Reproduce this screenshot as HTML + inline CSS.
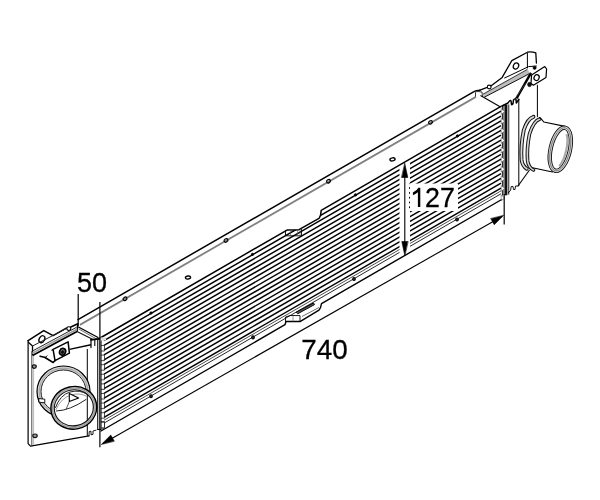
<!DOCTYPE html>
<html><head><meta charset="utf-8"><style>
html,body{margin:0;padding:0;background:#fff;width:600px;height:500px;overflow:hidden}
svg{display:block;will-change:transform}
</style></head><body>
<svg width="600" height="500" viewBox="0 0 600 500">
<rect width="600" height="500" fill="#fff"/>
<defs><clipPath id="core"><path d="M101.00,337.50 L287.00,230.05 L299.00,229.65 L319.00,218.46 L320.60,215.14 L321.20,210.29 L504.00,104.69 L504.00,198.19 L101.00,431.00 Z"/></clipPath>
<clipPath id="gap"><path d="M0,0 H600 V500 H0 Z M399.5,150 H410 V270 H399.5 Z M409,183.5 H458 V211 H409 Z" clip-rule="evenodd"/></clipPath></defs>
<g clip-path="url(#core)"><g clip-path="url(#gap)">
<line x1="104.00" y1="340.57" x2="501.00" y2="111.22" stroke="#000" stroke-width="1.45"/>
<line x1="104.00" y1="345.37" x2="501.00" y2="116.02" stroke="#000" stroke-width="1.45"/>
<line x1="104.00" y1="350.17" x2="501.00" y2="120.82" stroke="#000" stroke-width="1.45"/>
<line x1="104.00" y1="354.97" x2="501.00" y2="125.62" stroke="#000" stroke-width="1.45"/>
<line x1="104.00" y1="359.77" x2="501.00" y2="130.42" stroke="#000" stroke-width="1.45"/>
<line x1="104.00" y1="364.57" x2="501.00" y2="135.22" stroke="#000" stroke-width="1.45"/>
<line x1="104.00" y1="369.37" x2="501.00" y2="140.02" stroke="#000" stroke-width="1.45"/>
<line x1="104.00" y1="374.17" x2="501.00" y2="144.82" stroke="#000" stroke-width="1.45"/>
<line x1="104.00" y1="378.97" x2="501.00" y2="149.62" stroke="#000" stroke-width="1.45"/>
<line x1="104.00" y1="383.77" x2="501.00" y2="154.42" stroke="#000" stroke-width="1.45"/>
<line x1="104.00" y1="388.57" x2="501.00" y2="159.22" stroke="#000" stroke-width="1.45"/>
<line x1="104.00" y1="393.37" x2="501.00" y2="164.02" stroke="#000" stroke-width="1.45"/>
<line x1="104.00" y1="398.17" x2="501.00" y2="168.82" stroke="#000" stroke-width="1.45"/>
<line x1="104.00" y1="402.97" x2="501.00" y2="173.62" stroke="#000" stroke-width="1.45"/>
<line x1="104.00" y1="407.77" x2="501.00" y2="178.42" stroke="#000" stroke-width="1.45"/>
<line x1="104.00" y1="412.57" x2="501.00" y2="183.22" stroke="#000" stroke-width="1.45"/>
<line x1="104.00" y1="417.37" x2="501.00" y2="188.02" stroke="#000" stroke-width="1.45"/>
<line x1="104.00" y1="420.25" x2="501.00" y2="190.90" stroke="#222" stroke-width="0.8"/>
<line x1="104.00" y1="423.13" x2="501.00" y2="193.78" stroke="#111" stroke-width="0.9"/>
</g></g>
<path d="M98.00,339.23 L287.00,230.05 L299.00,229.65 L319.00,218.46 L320.60,215.14 L321.20,210.29 L501.00,106.42" stroke="#000" stroke-width="1.5" fill="none" stroke-linejoin="round" stroke-linecap="round"/>
<path d="M101.00,431.00 L285.00,324.70 L286.00,321.54 L300.00,321.54 L319.00,310.06 L320.50,307.69 L321.50,303.62 L503.00,198.76" stroke="#000" stroke-width="1.4" fill="none" stroke-linejoin="round" stroke-linecap="round"/>
<path d="M285.50,230.50 L285.50,235.80 L301.50,235.80 L301.50,229.50" stroke="#000" stroke-width="0.9" fill="none" stroke-linejoin="round" stroke-linecap="round"/>
<line x1="290.50" y1="230.20" x2="290.50" y2="235.60" stroke="#555" stroke-width="0.6"/>
<line x1="297.50" y1="229.80" x2="297.50" y2="235.60" stroke="#555" stroke-width="0.6"/>
<line x1="300.00" y1="229.60" x2="300.00" y2="235.60" stroke="#555" stroke-width="0.6"/>
<path d="M285.50,323.50 L285.50,317.00 L290.00,315.50 L300.00,315.60 L300.00,321.50" stroke="#000" stroke-width="0.9" fill="none" stroke-linejoin="round" stroke-linecap="round"/>
<line x1="293.00" y1="315.70" x2="293.00" y2="321.50" stroke="#555" stroke-width="0.6"/>
<path d="M101.00,345.50 L104.50,345.50 L104.50,351.00 L101.00,351.00" stroke="#222" stroke-width="0.8" fill="none" stroke-linejoin="round" stroke-linecap="round"/>
<path d="M101.00,355.10 L104.50,355.10 L104.50,360.60 L101.00,360.60" stroke="#222" stroke-width="0.8" fill="none" stroke-linejoin="round" stroke-linecap="round"/>
<path d="M101.00,364.70 L104.50,364.70 L104.50,370.20 L101.00,370.20" stroke="#222" stroke-width="0.8" fill="none" stroke-linejoin="round" stroke-linecap="round"/>
<path d="M101.00,374.30 L104.50,374.30 L104.50,379.80 L101.00,379.80" stroke="#222" stroke-width="0.8" fill="none" stroke-linejoin="round" stroke-linecap="round"/>
<path d="M101.00,383.90 L104.50,383.90 L104.50,389.40 L101.00,389.40" stroke="#222" stroke-width="0.8" fill="none" stroke-linejoin="round" stroke-linecap="round"/>
<path d="M101.00,393.50 L104.50,393.50 L104.50,399.00 L101.00,399.00" stroke="#222" stroke-width="0.8" fill="none" stroke-linejoin="round" stroke-linecap="round"/>
<path d="M101.00,403.10 L104.50,403.10 L104.50,408.60 L101.00,408.60" stroke="#222" stroke-width="0.8" fill="none" stroke-linejoin="round" stroke-linecap="round"/>
<path d="M101.00,412.70 L104.50,412.70 L104.50,418.20 L101.00,418.20" stroke="#222" stroke-width="0.8" fill="none" stroke-linejoin="round" stroke-linecap="round"/>
<path d="M101.00,422.30 L104.50,422.30 L104.50,427.80 L101.00,427.80" stroke="#222" stroke-width="0.8" fill="none" stroke-linejoin="round" stroke-linecap="round"/>
<line x1="97.60" y1="339.50" x2="97.60" y2="429.50" stroke="#222" stroke-width="1.0"/>
<line x1="101.00" y1="339.00" x2="101.00" y2="429.50" stroke="#000" stroke-width="1.1"/>
<rect x="98.1" y="340" width="2.4" height="89" fill="#bbb"/>
<path d="M97.60,429.50 L101.00,429.50" stroke="#000" stroke-width="1.0" fill="none" stroke-linejoin="round" stroke-linecap="round"/>
<path d="M101,421.5 L104.5,421.5 L104.5,427.5 Q104,429 102,429" stroke="#222" stroke-width="0.8" fill="none" stroke-linejoin="round" stroke-linecap="round"/>
<rect x="502.4" y="104.8" width="2.2" height="90.5" fill="#888"/>
<rect x="504.6" y="104.6" width="2.6" height="90.7" fill="#111"/>
<line x1="502.40" y1="105.00" x2="502.40" y2="195.50" stroke="#111" stroke-width="0.9"/>
<rect x="507.2" y="104.5" width="1.4" height="90.5" fill="#999"/>
<line x1="508.80" y1="104.50" x2="508.80" y2="194.50" stroke="#222" stroke-width="0.9"/>
<path d="M501.50,109.00 L504.80,111.60 L501.50,114.20 Z" stroke="#444" stroke-width="0.5" fill="#fff" stroke-linejoin="round" stroke-linecap="round"/>
<path d="M501.50,118.60 L504.80,121.20 L501.50,123.80 Z" stroke="#444" stroke-width="0.5" fill="#fff" stroke-linejoin="round" stroke-linecap="round"/>
<path d="M501.50,128.20 L504.80,130.80 L501.50,133.40 Z" stroke="#444" stroke-width="0.5" fill="#fff" stroke-linejoin="round" stroke-linecap="round"/>
<path d="M501.50,137.80 L504.80,140.40 L501.50,143.00 Z" stroke="#444" stroke-width="0.5" fill="#fff" stroke-linejoin="round" stroke-linecap="round"/>
<path d="M501.50,147.40 L504.80,150.00 L501.50,152.60 Z" stroke="#444" stroke-width="0.5" fill="#fff" stroke-linejoin="round" stroke-linecap="round"/>
<path d="M501.50,157.00 L504.80,159.60 L501.50,162.20 Z" stroke="#444" stroke-width="0.5" fill="#fff" stroke-linejoin="round" stroke-linecap="round"/>
<path d="M501.50,166.60 L504.80,169.20 L501.50,171.80 Z" stroke="#444" stroke-width="0.5" fill="#fff" stroke-linejoin="round" stroke-linecap="round"/>
<path d="M501.50,176.20 L504.80,178.80 L501.50,181.40 Z" stroke="#444" stroke-width="0.5" fill="#fff" stroke-linejoin="round" stroke-linecap="round"/>
<path d="M501.50,185.80 L504.80,188.40 L501.50,191.00 Z" stroke="#444" stroke-width="0.5" fill="#fff" stroke-linejoin="round" stroke-linecap="round"/>
<path d="M501.50,195.40 L504.80,198.00 L501.50,200.60 Z" stroke="#444" stroke-width="0.5" fill="#fff" stroke-linejoin="round" stroke-linecap="round"/>
<path d="M78,319.6 L474,91.6 Q476,90.2 480,90.2" stroke="#000" stroke-width="1.5" fill="none" stroke-linejoin="round" stroke-linecap="round"/>
<path d="M475.5,96.5 L475.5,92.5 Q476,91.5 478,91.5 L482,92 L482.5,96.5" stroke="#222" stroke-width="0.9" fill="none" stroke-linejoin="round" stroke-linecap="round"/>
<line x1="80.00" y1="325.00" x2="476.00" y2="97.00" stroke="#888" stroke-width="1.5"/>
<line x1="80.00" y1="324.20" x2="476.00" y2="96.20" stroke="#555" stroke-width="0.5"/>
<line x1="78.00" y1="326.70" x2="98.50" y2="337.80" stroke="#000" stroke-width="1.3"/>
<line x1="78.50" y1="328.80" x2="97.00" y2="339.30" stroke="#444" stroke-width="0.8"/>
<line x1="77.00" y1="331.50" x2="93.00" y2="339.60" stroke="#111" stroke-width="1.1"/>
<line x1="77.60" y1="323.50" x2="77.20" y2="331.50" stroke="#000" stroke-width="1.3"/>
<line x1="480.50" y1="95.50" x2="500.50" y2="107.00" stroke="#000" stroke-width="1.1"/>
<ellipse cx="125.00" cy="298.80" rx="2.0" ry="1.6" transform="rotate(-30 125.00 298.80)" stroke="#000" stroke-width="1.2" fill="none"/>
<ellipse cx="226.00" cy="240.46" rx="2.0" ry="1.6" transform="rotate(-30 226.00 240.46)" stroke="#000" stroke-width="1.2" fill="none"/>
<ellipse cx="328.50" cy="181.24" rx="2.0" ry="1.6" transform="rotate(-30 328.50 181.24)" stroke="#000" stroke-width="1.2" fill="none"/>
<ellipse cx="430.50" cy="122.32" rx="2.0" ry="1.6" transform="rotate(-30 430.50 122.32)" stroke="#000" stroke-width="1.2" fill="none"/>
<ellipse cx="188.00" cy="277.54" rx="2.6" ry="1.5" transform="rotate(-10 188.00 277.54)" stroke="#000" stroke-width="1.4" fill="none"/>
<ellipse cx="392.50" cy="159.40" rx="2.6" ry="1.5" transform="rotate(-10 392.50 159.40)" stroke="#000" stroke-width="1.4" fill="none"/>
<ellipse cx="151.00" cy="313.01" rx="1.1" ry="1.1" transform="rotate(0 151.00 313.01)" stroke="#000" stroke-width="1.0" fill="#000"/>
<ellipse cx="252.50" cy="254.38" rx="1.1" ry="1.1" transform="rotate(0 252.50 254.38)" stroke="#000" stroke-width="1.0" fill="#000"/>
<ellipse cx="355.50" cy="194.88" rx="1.1" ry="1.1" transform="rotate(0 355.50 194.88)" stroke="#000" stroke-width="1.0" fill="#000"/>
<ellipse cx="457.50" cy="135.95" rx="1.1" ry="1.1" transform="rotate(0 457.50 135.95)" stroke="#000" stroke-width="1.0" fill="#000"/>
<ellipse cx="151.00" cy="396.31" rx="1.3" ry="1.5" transform="rotate(0 151.00 396.31)" stroke="#000" stroke-width="1.1" fill="#333"/>
<ellipse cx="253.00" cy="337.39" rx="1.3" ry="1.5" transform="rotate(0 253.00 337.39)" stroke="#000" stroke-width="1.1" fill="#333"/>
<ellipse cx="354.00" cy="279.04" rx="1.3" ry="1.5" transform="rotate(0 354.00 279.04)" stroke="#000" stroke-width="1.1" fill="#333"/>
<ellipse cx="457.00" cy="219.54" rx="1.3" ry="1.5" transform="rotate(0 457.00 219.54)" stroke="#000" stroke-width="1.1" fill="#333"/>
<path d="M296.50,312.00 L313.50,303.00 L314.50,304.60 L298.00,313.60 Z" stroke="#000" stroke-width="1.0" fill="#555" stroke-linejoin="round" stroke-linecap="round"/>
<line x1="302.00" y1="316.50" x2="319.00" y2="307.50" stroke="#333" stroke-width="0.7"/>
<line x1="78.20" y1="294.00" x2="78.20" y2="326.00" stroke="#000" stroke-width="1.2"/>
<line x1="99.90" y1="302.00" x2="99.90" y2="447.30" stroke="#000" stroke-width="1.2"/>
<line x1="504.20" y1="194.00" x2="504.20" y2="224.50" stroke="#000" stroke-width="1.2"/>
<line x1="103.00" y1="443.40" x2="502.00" y2="216.40" stroke="#000" stroke-width="1.1"/>
<path d="M101.60,444.20 L110.78,435.06 L114.15,440.97 Z" stroke="#000" stroke-width="0.6" fill="#000" stroke-linejoin="round" stroke-linecap="round"/>
<path d="M503.40,215.60 L494.22,224.74 L490.85,218.83 Z" stroke="#000" stroke-width="0.6" fill="#000" stroke-linejoin="round" stroke-linecap="round"/>
<line x1="404.80" y1="170.00" x2="404.80" y2="250.00" stroke="#000" stroke-width="1.1"/>
<path d="M404.80,163.50 L407.80,177.50 L401.80,177.50 Z" stroke="#000" stroke-width="0.6" fill="#000" stroke-linejoin="round" stroke-linecap="round"/>
<path d="M404.80,255.50 L401.80,241.50 L407.80,241.50 Z" stroke="#000" stroke-width="0.6" fill="#000" stroke-linejoin="round" stroke-linecap="round"/>
<path d="M28.10,340.60 L28.10,443.60 L30.50,446.20 L89.00,435.80" stroke="#000" stroke-width="1.2" fill="none" stroke-linejoin="round" stroke-linecap="round"/>
<line x1="31.80" y1="352.00" x2="31.80" y2="445.50" stroke="#333" stroke-width="0.9"/>
<line x1="33.60" y1="356.00" x2="33.60" y2="444.50" stroke="#888" stroke-width="0.6"/>
<line x1="87.30" y1="349.00" x2="87.30" y2="435.80" stroke="#000" stroke-width="1.0"/>
<path d="M89.00,435.80 L89.20,431.50 L91.00,431.20 L91.00,434.80 L93.00,434.40 L93.00,431.00 L96.00,430.20" stroke="#000" stroke-width="0.9" fill="none" stroke-linejoin="round" stroke-linecap="round"/>
<path d="M28.10,340.60 L43.75,330.60 L53.10,335.60 L66.30,328.10" stroke="#000" stroke-width="1.5" fill="none" stroke-linejoin="round" stroke-linecap="round"/>
<ellipse cx="68.80" cy="328.60" rx="2.0" ry="1.9" transform="rotate(0 68.80 328.60)" stroke="#000" stroke-width="1.1" fill="none"/>
<path d="M70.80,327.00 L77.80,323.80" stroke="#000" stroke-width="1.5" fill="none" stroke-linejoin="round" stroke-linecap="round"/>
<ellipse cx="41.90" cy="339.20" rx="2.6" ry="3.7" transform="rotate(30 41.90 339.20)" stroke="#000" stroke-width="1.4" fill="none"/>
<path d="M28.60,342.50 L32.50,346.00 L32.50,354.40" stroke="#000" stroke-width="1.3" fill="none" stroke-linejoin="round" stroke-linecap="round"/>
<line x1="32.50" y1="346.00" x2="66.50" y2="328.50" stroke="#222" stroke-width="1.0"/>
<line x1="32.50" y1="355.60" x2="77.00" y2="331.60" stroke="#000" stroke-width="1.7"/>
<line x1="32.00" y1="353.40" x2="77.00" y2="329.20" stroke="#999" stroke-width="1.6"/>
<line x1="31.50" y1="351.50" x2="76.50" y2="327.30" stroke="#222" stroke-width="1.0"/>
<path d="M53.10,349.40 L68.10,341.90 L69.40,353.10 L55.00,360.60 Z" stroke="#000" stroke-width="1.5" fill="none" stroke-linejoin="round" stroke-linecap="round"/>
<line x1="53.10" y1="349.40" x2="51.50" y2="350.50" stroke="#000" stroke-width="1.2"/>
<path d="M40.00,356.20 L45.50,357.50" stroke="#000" stroke-width="1.5" fill="none" stroke-linejoin="round" stroke-linecap="round"/>
<path d="M45.00,357.50 L53.10,362.50 L55.00,360.60" stroke="#000" stroke-width="1.5" fill="none" stroke-linejoin="round" stroke-linecap="round"/>
<path d="M45.50,357.50 L47.00,355.80" stroke="#000" stroke-width="0.9" fill="none" stroke-linejoin="round" stroke-linecap="round"/>
<ellipse cx="62.60" cy="351.80" rx="3.0" ry="3.5" transform="rotate(20 62.60 351.80)" stroke="#000" stroke-width="1.6" fill="#666"/>
<ellipse cx="62.60" cy="352.20" rx="1.2" ry="1.4" transform="rotate(20 62.60 352.20)" stroke="#000" stroke-width="0.6" fill="#111"/>
<line x1="69.40" y1="349.40" x2="91.00" y2="344.80" stroke="#000" stroke-width="1.4"/>
<path d="M90.8,339.8 L100.6,338.6" stroke="#000" stroke-width="1.7" fill="none" stroke-linejoin="round" stroke-linecap="round"/>
<path d="M91,340 L91,347.6" stroke="#000" stroke-width="1.2" fill="none" stroke-linejoin="round" stroke-linecap="round"/>
<path d="M94.8,340 L94.8,345.6" stroke="#000" stroke-width="1.1" fill="none" stroke-linejoin="round" stroke-linecap="round"/>
<rect x="100.6" y="337.4" width="5.5" height="3.2" fill="#ddd"/>
<ellipse cx="34.30" cy="366.60" rx="2.0" ry="1.7" transform="rotate(0 34.30 366.60)" stroke="#111" stroke-width="1.2" fill="#999"/>
<ellipse cx="35.00" cy="435.80" rx="2.2" ry="1.8" transform="rotate(0 35.00 435.80)" stroke="#111" stroke-width="1.2" fill="#999"/>
<clipPath id="lp"><path d="M0,0 H600 V500 H0 Z M50.8,407.8 a23.0,21.3 0 1,0 46.0,0 a23.0,21.3 0 1,0 -46.0,0 Z" transform="rotate(-12 73.8 407.8)" clip-rule="evenodd"/></clipPath>
<g clip-path="url(#lp)">
<path d="M37,391.5 a26.5,25.5 0 1,0 53,0 a26.5,25.5 0 1,0 -53,0 Z M41,391.5 a22.5,21.5 0 1,0 45,0 a22.5,21.5 0 1,0 -45,0 Z" fill="#d0d0d0" fill-rule="evenodd"/>
<ellipse cx="63.50" cy="391.50" rx="26.5" ry="25.5" transform="rotate(0 63.50 391.50)" stroke="#000" stroke-width="1.2" fill="none"/>
<ellipse cx="63.50" cy="391.50" rx="22.5" ry="21.5" transform="rotate(0 63.50 391.50)" stroke="#222" stroke-width="1.0" fill="none"/>
<ellipse cx="63.50" cy="391.50" rx="24.3" ry="23.3" transform="rotate(0 63.50 391.50)" stroke="#777" stroke-width="0.5" fill="none"/>
</g>
<path d="M39.20,398.60 L44.80,399.20 L44.80,402.80 L39.20,402.20 Z" stroke="#000" stroke-width="0.9" fill="#fff" stroke-linejoin="round" stroke-linecap="round"/>
<path d="M50.8,407.8 a23.0,21.3 0 1,0 46.0,0 a23.0,21.3 0 1,0 -46.0,0 Z M54.199999999999996,407.8 a19.6,18.0 0 1,0 39.2,0 a19.6,18.0 0 1,0 -39.2,0 Z" transform="rotate(-12 73.8 407.8)" fill="#c8c8c8" fill-rule="evenodd"/>
<ellipse cx="73.80" cy="407.80" rx="23.0" ry="21.3" transform="rotate(-12 73.80 407.80)" stroke="#000" stroke-width="1.4" fill="none"/>
<ellipse cx="73.80" cy="407.80" rx="19.6" ry="18.0" transform="rotate(-12 73.80 407.80)" stroke="#111" stroke-width="1.1" fill="none"/>
<ellipse cx="73.80" cy="407.80" rx="21.4" ry="19.7" transform="rotate(-12 73.80 407.80)" stroke="#666" stroke-width="0.5" fill="none"/>
<path d="M55.5,407.5 Q60,395 70,392 Q80,389.5 86.5,394" stroke="#222" stroke-width="1.0" fill="none" stroke-linejoin="round" stroke-linecap="round"/>
<path d="M56,409.5 Q61,398 71,395 Q80,392.5 86,396" stroke="#555" stroke-width="0.6" fill="none" stroke-linejoin="round" stroke-linecap="round"/>
<path d="M56.5,411 Q70,410.5 86,399.5" stroke="#222" stroke-width="1.0" fill="none" stroke-linejoin="round" stroke-linecap="round"/>
<path d="M69.30,393.40 L78.60,398.00 L69.30,401.60 Z" stroke="#000" stroke-width="1.1" fill="#fff" stroke-linejoin="round" stroke-linecap="round"/>
<line x1="69.30" y1="401.60" x2="66.00" y2="409.50" stroke="#333" stroke-width="0.8"/>
<line x1="518.80" y1="98.60" x2="518.80" y2="186.00" stroke="#000" stroke-width="1.0"/>
<line x1="537.40" y1="84.80" x2="537.40" y2="117.20" stroke="#000" stroke-width="1.0"/>
<path d="M508.20,192.80 L510.60,190.40 L511.20,186.50 L513.00,186.50 L513.50,189.50 L515.00,189.50 L515.50,186.00 L518.00,186.00" stroke="#000" stroke-width="0.9" fill="none" stroke-linejoin="round" stroke-linecap="round"/>
<line x1="517.80" y1="186.20" x2="529.50" y2="170.00" stroke="#000" stroke-width="1.1"/>
<path d="M502,106 L508,103 Q510,99.5 511,101 L511.5,104.5 Q512.5,105 513,103.5 L513.5,100 Q515,98 516,99.5 L516.3,103 L518.8,99.5" stroke="#000" stroke-width="1.5" fill="none" stroke-linejoin="round" stroke-linecap="round"/>
<line x1="531.00" y1="72.80" x2="516.50" y2="98.50" stroke="#000" stroke-width="2.4"/>
<ellipse cx="529.50" cy="84.50" rx="2.0" ry="2.2" transform="rotate(0 529.50 84.50)" stroke="#111" stroke-width="0.5" fill="#111"/>
<line x1="525.60" y1="83.40" x2="515.00" y2="98.50" stroke="#444" stroke-width="0.8"/>
<line x1="526.60" y1="80.00" x2="508.60" y2="99.20" stroke="#000" stroke-width="0.0"/>
<path d="M480.00,90.20 L486.50,87.60" stroke="#000" stroke-width="1.3" fill="none" stroke-linejoin="round" stroke-linecap="round"/>
<ellipse cx="489.20" cy="87.00" rx="1.9" ry="1.9" transform="rotate(0 489.20 87.00)" stroke="#000" stroke-width="1.1" fill="none"/>
<path d="M491.2,85.8 L502.2,77.4 L511.8,60.6 L527.4,52.2 Q531,51.2 535.8,52.8 L536.4,63" stroke="#000" stroke-width="1.3" fill="none" stroke-linejoin="round" stroke-linecap="round"/>
<path d="M504.6,78 L528.6,66.6 L536.4,66" stroke="#000" stroke-width="1.0" fill="none" stroke-linejoin="round" stroke-linecap="round"/>
<line x1="527.40" y1="53.00" x2="527.40" y2="68.40" stroke="#000" stroke-width="1.0"/>
<ellipse cx="516.00" cy="66.00" rx="2.6" ry="3.2" transform="rotate(25 516.00 66.00)" stroke="#000" stroke-width="1.2" fill="none"/>
<path d="M483,94.2 L527.4,69.4 L530.4,73.2 L484,97.4 Z" fill="#bdbdbd"/>
<line x1="483.00" y1="94.20" x2="527.40" y2="69.40" stroke="#222" stroke-width="0.9"/>
<line x1="484.00" y1="97.40" x2="530.40" y2="73.20" stroke="#111" stroke-width="1.0"/>
<path d="M531.60,75.00 L544.80,66.60 L546.60,69.00 L546.00,77.40 L533.40,85.20 L531.00,83.40 Z" stroke="#000" stroke-width="1.2" fill="none" stroke-linejoin="round" stroke-linecap="round"/>
<ellipse cx="536.60" cy="77.60" rx="2.5" ry="3.0" transform="rotate(25 536.60 77.60)" stroke="#000" stroke-width="1.2" fill="none"/>
<ellipse cx="534.60" cy="67.80" rx="1.6" ry="1.6" transform="rotate(0 534.60 67.80)" stroke="#000" stroke-width="0.6" fill="#000"/>
<path d="M533.5,116.8 Q527.5,118.5 523.8,130 Q520.6,145 521.6,160 Q522.4,166 526.8,168.8" stroke="#111" stroke-width="3.8" fill="none" stroke-linecap="round"/>
<path d="M533.5,116.8 Q527.5,118.5 523.8,130 Q520.6,145 521.6,160 Q522.4,166 526.8,168.8" stroke="#d8d8d8" stroke-width="1.7999999999999998" fill="none" stroke-linecap="round"/>
<path d="M539.8,119.0 Q533.5,121 529.5,134 Q526.6,148 527.6,161 Q528.6,167.5 533.5,170" stroke="#111" stroke-width="3.6" fill="none" stroke-linecap="round"/>
<path d="M539.8,119.0 Q533.5,121 529.5,134 Q526.6,148 527.6,161 Q528.6,167.5 533.5,170" stroke="#d8d8d8" stroke-width="1.6" fill="none" stroke-linecap="round"/>
<path d="M539.5,117.8 Q542,119.5 543.8,122 L565,126.4" stroke="#000" stroke-width="1.1" fill="none" stroke-linejoin="round" stroke-linecap="round"/>
<path d="M532.5,167.8 L552.5,172.0" stroke="#000" stroke-width="1.1" fill="none" stroke-linejoin="round" stroke-linecap="round"/>
<g transform="rotate(13 560.3 149.3)">
<ellipse cx="560.3" cy="149.3" rx="9.6" ry="22.0" fill="none" stroke="#111" stroke-width="4.4"/>
<ellipse cx="560.3" cy="149.3" rx="9.6" ry="22.0" fill="none" stroke="#d8d8d8" stroke-width="2.6"/>
<ellipse cx="560.3" cy="149.3" rx="9.6" ry="22.0" fill="none" stroke="#444" stroke-width="0.6"/>
<path d="M563,133 A7.4,19.8 0 0,1 563,166" fill="none" stroke="#aaa" stroke-width="2.2"/>
</g>
<text x="77" y="291.6" font-family="Liberation Sans" font-size="27" stroke="#000" stroke-width="0.3">50</text>
<text x="301.3" y="359.3" font-family="Liberation Sans" font-size="27.8" stroke="#000" stroke-width="0.3">740</text>
<text x="425" y="207" font-family="Liberation Sans" font-size="26.8" stroke="#000" stroke-width="0.3">27</text>
<path d="M420.3,207 L420.3,187.8 L418.4,187.8 Q417,190.6 412.9,192.6 L412.9,195.2 Q416.2,193.9 417.9,192.2 L417.9,207 Z" fill="#000"/>
</svg></body></html>
